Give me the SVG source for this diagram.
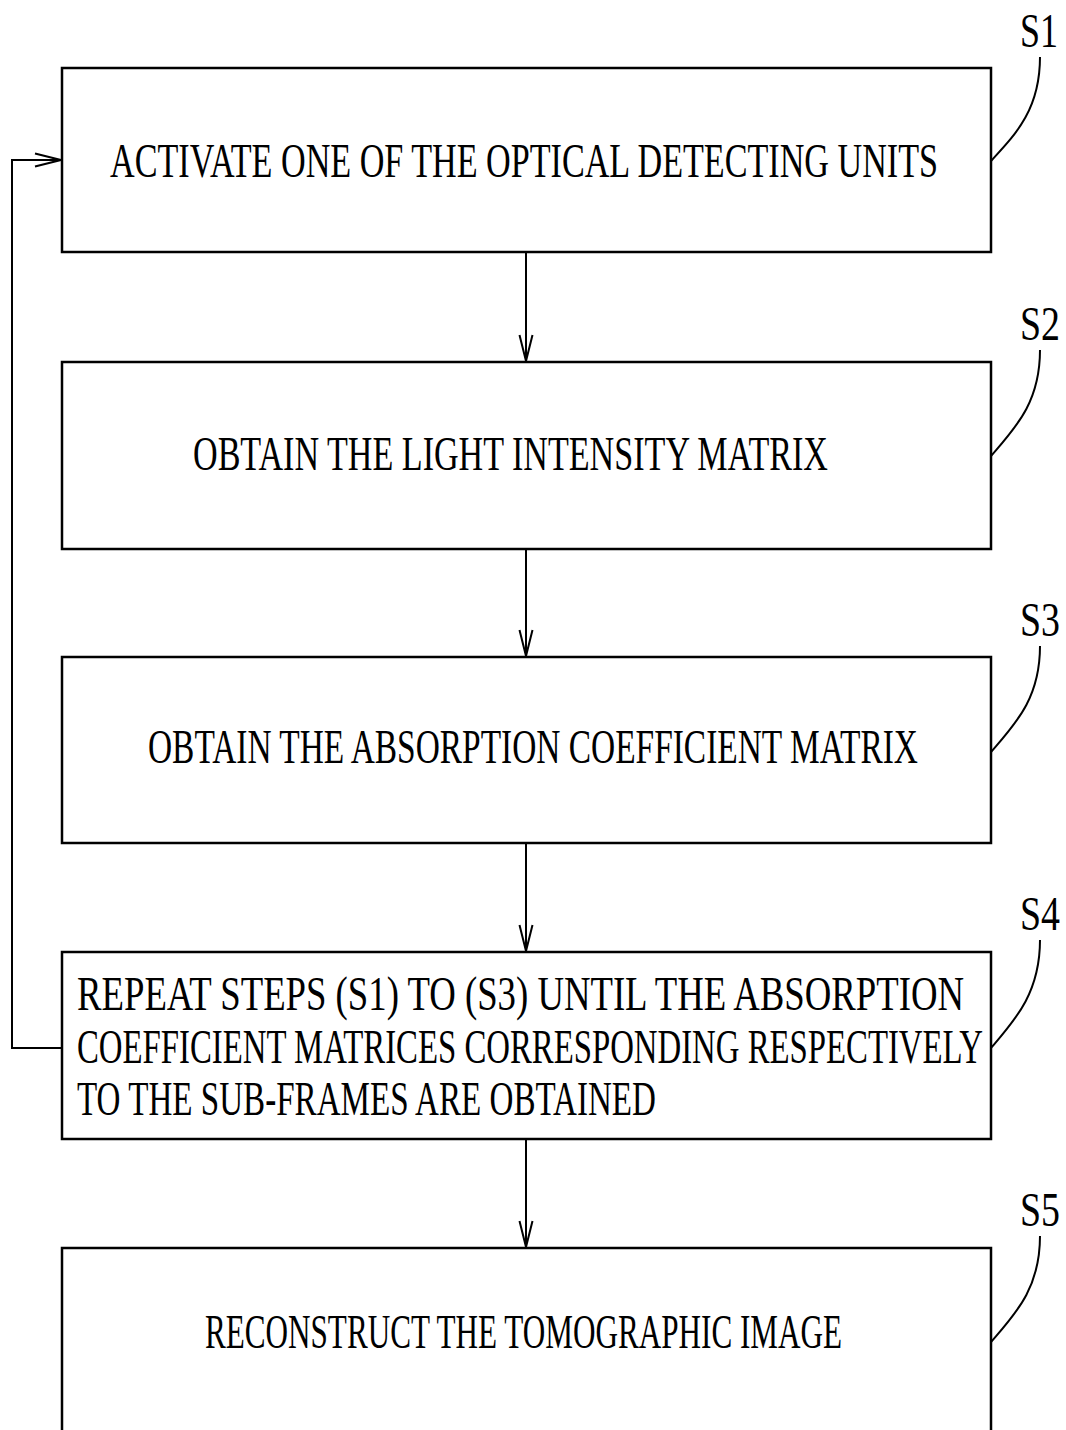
<svg xmlns="http://www.w3.org/2000/svg" width="1066" height="1430" viewBox="0 0 1066 1430">
<style>
.box{fill:#fff;stroke:#000;stroke-width:2.5}
.t{font-family:"Liberation Serif",serif;font-size:31px;fill:#000}
.lab{font-family:"Liberation Serif",serif;font-size:36px;fill:#000}
.ln{fill:none;stroke:#000;stroke-width:2}
</style>
<defs>
<marker id="ah" markerWidth="30" markerHeight="16" refX="28" refY="8" orient="auto" markerUnits="userSpaceOnUse">
<path d="M2,1.5 L28,8 L2,14.5" fill="none" stroke="#000" stroke-width="2"/>
</marker>
</defs>
<rect width="1066" height="1430" fill="#fff"/>
<g id="connectors">
<line class="ln" x1="526" y1="252" x2="526" y2="361" marker-end="url(#ah)"/>
<line class="ln" x1="526" y1="549" x2="526" y2="656" marker-end="url(#ah)"/>
<line class="ln" x1="526" y1="843" x2="526" y2="951" marker-end="url(#ah)"/>
<line class="ln" x1="526" y1="1139" x2="526" y2="1247" marker-end="url(#ah)"/>
<path class="ln" d="M62,1048 H12 V160 H61" marker-end="url(#ah)"/>
</g>
<g id="S1">
<rect class="box" x="62" y="68" width="929" height="184"/>
<text class="t" transform="translate(110,177) scale(1,1.55)" textLength="828" lengthAdjust="spacingAndGlyphs">ACTIVATE ONE OF THE OPTICAL DETECTING UNITS</text>
<text class="lab" transform="translate(1020,47) scale(1,1.33)" textLength="38" lengthAdjust="spacingAndGlyphs">S1</text>
<path class="ln" d="M1040,57 C1040,110 1015,135 991,161"/>
</g>
<g id="S2">
<rect class="box" x="62" y="362" width="929" height="187"/>
<text class="t" transform="translate(193,470) scale(1,1.55)" textLength="635" lengthAdjust="spacingAndGlyphs">OBTAIN THE LIGHT INTENSITY MATRIX</text>
<text class="lab" transform="translate(1020,340) scale(1,1.33)" textLength="40" lengthAdjust="spacingAndGlyphs">S2</text>
<path class="ln" d="M1040,350 C1040,403 1015,428 991,456"/>
</g>
<g id="S3">
<rect class="box" x="62" y="657" width="929" height="186"/>
<text class="t" transform="translate(148,763) scale(1,1.55)" textLength="770" lengthAdjust="spacingAndGlyphs">OBTAIN THE ABSORPTION COEFFICIENT MATRIX</text>
<text class="lab" transform="translate(1020,636) scale(1,1.33)" textLength="40" lengthAdjust="spacingAndGlyphs">S3</text>
<path class="ln" d="M1040,646 C1040,699 1015,724 991,752"/>
</g>
<g id="S4">
<rect class="box" x="62" y="952" width="929" height="187"/>
<text class="t" transform="translate(77,1010) scale(1,1.55)" textLength="887" lengthAdjust="spacingAndGlyphs">REPEAT STEPS (S1) TO (S3) UNTIL THE ABSORPTION</text>
<text class="t" transform="translate(77,1063) scale(1,1.55)" textLength="906" lengthAdjust="spacingAndGlyphs">COEFFICIENT MATRICES CORRESPONDING RESPECTIVELY</text>
<text class="t" transform="translate(77,1115) scale(1,1.55)" textLength="579" lengthAdjust="spacingAndGlyphs">TO THE SUB-FRAMES ARE OBTAINED</text>
<text class="lab" transform="translate(1020,930) scale(1,1.33)" textLength="40" lengthAdjust="spacingAndGlyphs">S4</text>
<path class="ln" d="M1040,940 C1040,993 1015,1020 991,1048"/>
</g>
<g id="S5">
<path class="box" d="M62,1432 V1248 H991 V1432"/>
<text class="t" transform="translate(205,1348) scale(1,1.55)" textLength="637" lengthAdjust="spacingAndGlyphs">RECONSTRUCT THE TOMOGRAPHIC IMAGE</text>
<text class="lab" transform="translate(1020,1226) scale(1,1.33)" textLength="40" lengthAdjust="spacingAndGlyphs">S5</text>
<path class="ln" d="M1040,1236 C1040,1289 1015,1314 991,1342"/>
</g>
</svg>
